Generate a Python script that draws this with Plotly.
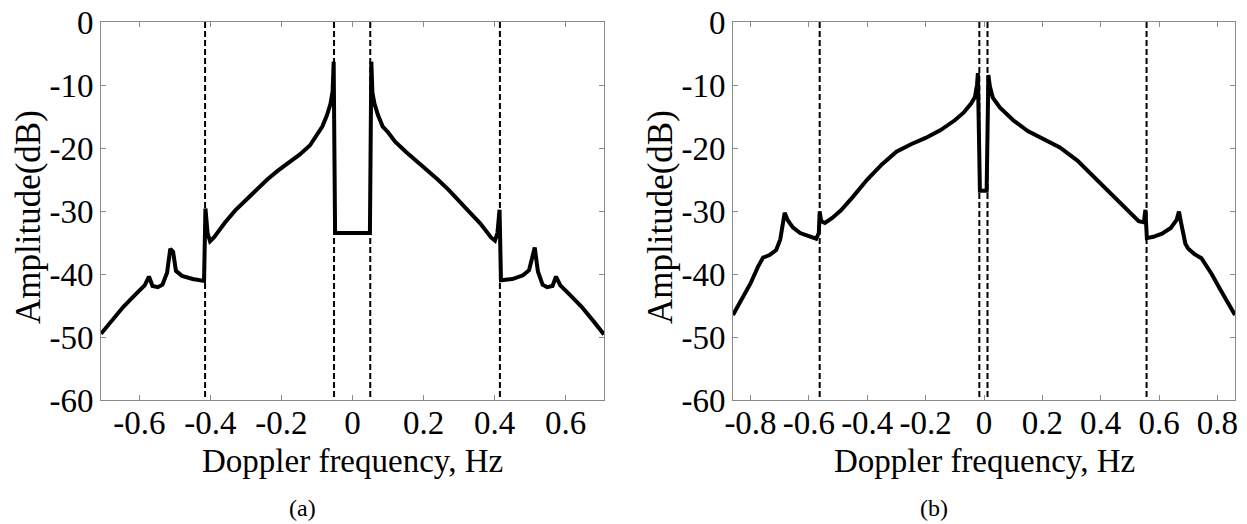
import plotly.graph_objects as go

# Panel (a) spectrum
freq_a = [-0.708, -0.68, -0.645, -0.61, -0.585, -0.573, -0.563, -0.548, -0.535, -0.522,
          -0.513, -0.505, -0.497, -0.48, -0.45, -0.418, -0.416, -0.414, -0.408, -0.401,
          -0.39, -0.36, -0.33, -0.30, -0.27, -0.24, -0.21, -0.18, -0.15, -0.12,
          -0.10, -0.085, -0.072, -0.062, -0.056, -0.053, -0.051, -0.049,
          0.049, 0.051, 0.053, 0.056, 0.062, 0.072, 0.085, 0.10,
          0.12, 0.15, 0.18, 0.21, 0.24, 0.27, 0.30, 0.33, 0.36, 0.39,
          0.401, 0.408, 0.414, 0.416, 0.418, 0.45, 0.48, 0.497, 0.505, 0.513,
          0.522, 0.535, 0.548, 0.563, 0.573, 0.585, 0.61, 0.645, 0.68, 0.708]
amp_a = [-49.5, -47.6, -45.2, -43.2, -41.8, -40.4, -41.9, -42.1, -41.7, -39.8,
         -36.0, -36.5, -39.5, -40.3, -40.8, -41.1, -35.0, -29.6, -33.5, -34.8,
         -34.2, -31.9, -29.9, -28.2, -26.6, -25.0, -23.6, -22.3, -21.1, -19.6,
         -18.0, -16.6, -14.8, -13.0, -11.0, -6.3, -20.0, -33.5,
         -33.5, -20.0, -6.3, -11.2, -13.0, -14.8, -16.6, -17.5,
         -19.0, -20.6, -22.0, -23.6, -25.0, -26.6, -28.3, -30.2, -32.0, -34.2,
         -34.7, -33.5, -29.8, -35.0, -41.0, -40.8, -40.2, -39.4, -37.5, -35.8,
         -39.6, -41.7, -42.1, -41.9, -40.4, -41.8, -43.2, -45.2, -47.6, -49.6]
marks_a = [-0.415, -0.052, 0.050, 0.415]

# Panel (b) spectrum
freq_b = [-0.86, -0.83, -0.80, -0.775, -0.757, -0.735, -0.712, -0.698, -0.683, -0.672,
          -0.655, -0.63, -0.60, -0.575, -0.566, -0.563, -0.558, -0.545, -0.52, -0.49,
          -0.45, -0.40, -0.35, -0.30, -0.25, -0.20, -0.15, -0.10, -0.07, -0.045,
          -0.031, -0.024, -0.021, -0.014, 0.009, 0.015, 0.02, 0.03, 0.055, 0.10,
          0.15, 0.20, 0.26, 0.32, 0.40, 0.48, 0.53, 0.548, 0.553, 0.558,
          0.58, 0.61, 0.64, 0.66, 0.668, 0.675, 0.69, 0.70, 0.72, 0.745,
          0.78, 0.81, 0.835, 0.86]
amp_b = [-46.5, -44.0, -41.5, -38.9, -37.4, -37.0, -36.2, -34.5, -30.3, -31.5,
         -32.6, -33.5, -34.0, -34.4, -33.5, -30.1, -31.6, -31.9, -31.1, -29.9,
         -27.8, -25.0, -22.6, -20.6, -19.4, -18.4, -17.2, -15.6, -14.4, -13.0,
         -11.9, -10.0, -8.1, -26.8, -26.8, -8.4, -10.2, -12.0, -13.6, -15.6,
         -17.3, -18.5, -19.9, -22.0, -25.7, -29.3, -31.6, -31.8, -29.8, -34.3,
         -34.1, -33.6, -32.7, -31.4, -30.1, -31.8, -35.2, -36.0, -36.8, -37.5,
         -40.0, -42.5, -44.6, -46.5]
marks_b = [-0.563, -0.016, 0.012, 0.557]

ticks_a = [-0.6, -0.4, -0.2, 0, 0.2, 0.4, 0.6]
ticks_b = [-0.8, -0.6, -0.4, -0.2, 0, 0.2, 0.4, 0.6, 0.8]
ticks_y = [0, -10, -20, -30, -40, -50, -60]

FONT = "Liberation Serif"
W, H = 1247, 524


def label(v):
    # plain hyphen like the original, not the unicode minus
    return f"{v:g}"


fig = go.Figure()
for xa, ya, freq, amp, marks in [("x", "y", freq_a, amp_a, marks_a),
                                 ("x2", "y2", freq_b, amp_b, marks_b)]:
    for m in marks:
        fig.add_trace(go.Scatter(
            x=[m, m], y=[0, -60], mode="lines", xaxis=xa, yaxis=ya,
            line=dict(color="black", width=2, dash="6px,3px"),
            showlegend=False, hoverinfo="skip",
        ))
    fig.add_trace(go.Scatter(
        x=freq, y=amp, mode="lines", xaxis=xa, yaxis=ya,
        line=dict(color="black", width=4),
        showlegend=False,
    ))

axis_common = dict(
    showline=True, linecolor="#8a8a8a", linewidth=1, mirror="allticks",
    ticks="inside", ticklen=5, tickcolor="#8a8a8a", tickwidth=1,
    showgrid=False, zeroline=False, automargin=False,
    tickfont=dict(family=FONT, size=33, color="black"),
)
ydom = [1 - 400 / H, 1 - 22 / H]

fig.update_layout(
    width=W, height=H,
    margin=dict(l=0, r=0, t=0, b=0),
    paper_bgcolor="white", plot_bgcolor="white",
    xaxis=dict(domain=[101 / W, 604 / W], range=[-0.708, 0.708], tickvals=ticks_a,
               ticktext=[label(v) for v in ticks_a], anchor="y", ticklabelstandoff=-7,
               **axis_common),
    yaxis=dict(domain=ydom, range=[-60, 0], tickvals=ticks_y,
               ticktext=[label(v) for v in ticks_y], anchor="x", **axis_common),
    xaxis2=dict(domain=[733 / W, 1235 / W], range=[-0.86, 0.86], tickvals=ticks_b,
                ticktext=[label(v) for v in ticks_b], anchor="y2", ticklabelstandoff=-7,
                **axis_common),
    yaxis2=dict(domain=ydom, range=[-60, 0], tickvals=ticks_y,
                ticktext=[label(v) for v in ticks_y], anchor="x2", **axis_common),
)

text_font = dict(family=FONT, color="black")
for cx, tag in [(352, "(a)"), (984, "(b)")]:
    fig.add_annotation(text="Doppler frequency, Hz", x=cx / W, y=1 - 461 / H,
                       xref="paper", yref="paper", showarrow=False,
                       xanchor="center", yanchor="middle", font=dict(size=33, **text_font))
    fig.add_annotation(text=tag, x=(cx - 50) / W, y=1 - 508 / H,
                       xref="paper", yref="paper", showarrow=False,
                       xanchor="center", yanchor="middle", font=dict(size=24, **text_font))
for cx in [28, 660]:
    fig.add_annotation(text="Amplitude(dB)", x=cx / W, y=1 - 217 / H, textangle=-90,
                       xref="paper", yref="paper", showarrow=False,
                       xanchor="center", yanchor="middle", font=dict(size=35, **text_font))

fig.write_html("out.html", config={"displayModeBar": False},
               post_script="document.body.style.margin='0';")
